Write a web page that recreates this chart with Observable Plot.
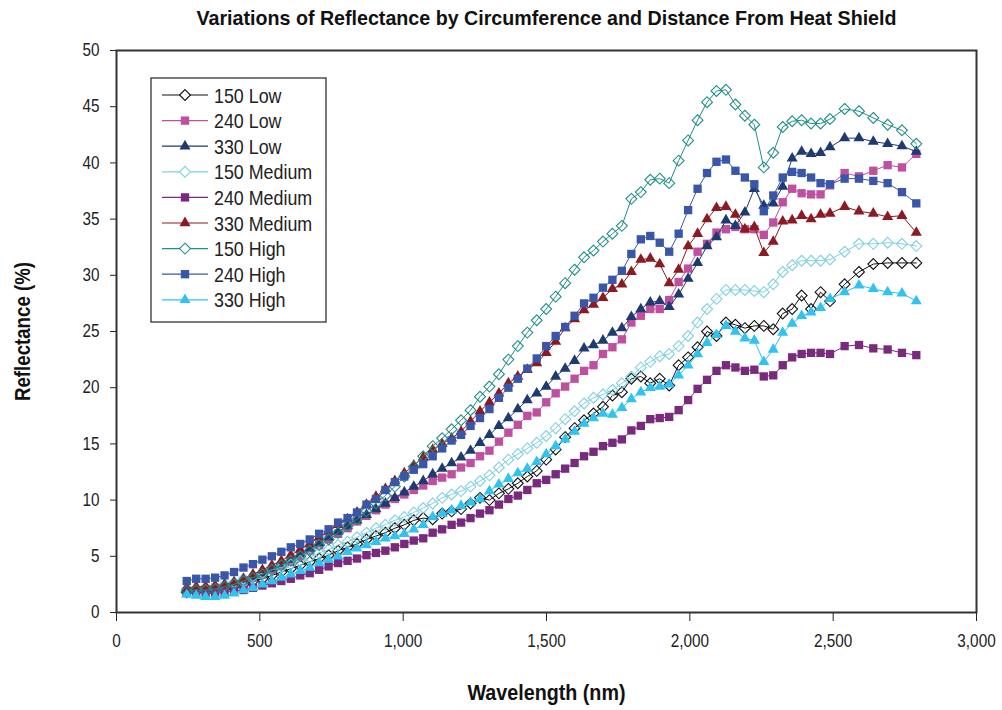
<!DOCTYPE html>
<html><head><meta charset="utf-8">
<script src="https://cdn.jsdelivr.net/npm/d3@7"></script>
<script src="https://cdn.jsdelivr.net/npm/@observablehq/plot@0.6"></script>
<style>body{margin:0;background:#fff;} svg{display:block}</style>
</head><body><div id="chart"></div>
<script>
// ---- data ----
const wavelength = [245,278,311,344,377,410,443,476,509,542,575,608,641,674,707,740,773,806,839,872,905,938,971,
  1004,1037,1070,1103,1136,1169,1202,1235,1268,1301,1334,1367,1400,1433,1466,1499,1532,1565,1598,1631,1664,1697,1730,1763,1796,1829,1862,
  1895,1928,1961,1994,2027,2060,2093,2126,2159,2192,2225,2258,2291,2324,2357,2390,2423,2456,2489,
  2540,2590,2640,2690,2740,2790];

const low150 = [1.8,1.9,1.9,2.0,2.1,2.3,2.5,2.8,3.0,3.3,3.6,3.9,4.2,4.5,4.8,5.1,5.5,5.8,6.1,6.5,6.8,7.1,7.5,
  7.8,8.2,8.4,8.3,8.8,9.0,9.2,9.7,10.2,10.0,10.6,11.0,11.5,12.1,12.6,13.6,14.5,15.6,16.4,17.1,17.7,18.3,19.3,19.6,20.8,21.0,20.4,
  20.8,20.2,22.0,22.7,23.6,25.0,24.6,25.8,25.6,25.3,25.5,25.5,25.2,26.6,27.0,28.2,27.0,28.5,27.7,
  29.2,30.3,31.0,31.1,31.1,31.1];
const low240 = [1.9,2.0,2.1,2.2,2.3,2.5,2.8,3.1,3.4,3.8,4.2,4.6,5.0,5.5,6.0,6.5,7.0,7.5,8.1,8.6,9.1,9.6,10.1,
  10.5,10.9,11.3,11.7,12.0,12.3,12.9,13.3,13.9,14.4,15.2,16.0,16.7,17.5,17.8,18.7,19.5,20.1,20.8,21.5,22.0,23.0,23.6,24.3,25.8,26.4,27.0,
  27.0,27.8,29.4,30.6,32.1,32.8,33.8,34.1,34.3,34.1,34.1,33.6,34.7,36.5,37.7,37.3,37.2,37.2,38.0,
  39.1,38.8,39.3,39.8,39.6,40.8];
const low330 = [2.0,2.1,2.2,2.3,2.4,2.6,2.9,3.2,3.5,3.9,4.3,4.7,5.2,5.7,6.2,6.7,7.2,7.7,8.2,8.7,9.2,9.7,10.2,
  10.7,11.2,11.7,12.3,12.8,13.3,13.8,14.4,15.1,15.8,16.6,17.3,18.1,18.9,19.5,20.1,21.0,21.7,22.4,23.5,23.8,24.2,24.9,25.3,26.3,27.0,27.6,
  27.7,27.2,28.3,29.7,31.1,32.6,33.4,34.9,34.4,35.6,37.7,36.2,36.4,37.9,40.4,41.0,40.8,40.9,41.4,
  42.2,42.2,41.9,41.7,41.5,41.0];
const med150 = [2.1,2.1,2.2,2.3,2.5,2.7,3.0,3.2,3.5,3.8,4.0,4.3,4.6,4.9,5.3,5.6,6.0,6.3,6.7,7.1,7.5,7.8,8.2,
  8.5,8.9,9.3,9.7,10.2,10.5,10.8,11.2,11.7,12.2,12.9,13.6,14.1,14.6,15.1,15.7,16.4,17.2,17.9,18.6,19.1,19.4,19.8,20.4,21.0,21.8,22.3,
  22.8,23.0,23.7,24.6,25.8,27.0,27.9,28.7,28.7,28.7,28.6,28.5,29.2,30.3,30.9,31.3,31.3,31.3,31.4,
  32.1,32.8,32.8,32.9,32.8,32.6];
const med240 = [1.8,1.8,1.7,1.7,1.8,1.9,2.0,2.2,2.4,2.6,2.8,3.0,3.3,3.5,3.8,4.1,4.4,4.6,4.8,5.1,5.3,5.5,5.8,
  6.1,6.4,6.6,7.1,7.4,7.8,8.0,8.4,8.8,9.1,9.6,10.1,10.4,10.9,11.5,11.8,12.3,12.8,13.3,13.9,14.3,14.8,15.1,15.4,16.2,16.6,17.2,
  17.3,17.4,18.0,18.9,19.9,20.7,21.5,22.0,21.8,21.5,21.6,21.0,21.1,22.0,22.7,23.0,23.1,23.1,23.0,
  23.7,23.8,23.5,23.4,23.1,22.9];
const med330 = [2.2,2.3,2.3,2.4,2.5,2.7,3.0,3.4,3.8,4.2,4.6,5.1,5.6,6.1,6.7,7.2,7.8,8.3,8.9,9.6,10.3,11.0,11.7,
  12.4,13.1,13.8,14.5,15.0,15.5,16.1,17.0,17.9,18.7,19.5,20.4,21.0,21.6,22.2,23.1,24.1,25.3,26.1,26.9,27.4,28.0,28.8,29.2,30.3,31.4,31.5,
  31.0,29.3,30.5,32.6,33.7,35.0,36.0,36.1,35.4,34.1,34.3,32.0,33.0,34.8,34.9,35.3,35.0,35.4,35.5,
  36.1,35.7,35.5,35.2,35.3,33.8];
const high150 = [1.9,2.0,2.0,2.1,2.3,2.5,2.8,3.1,3.4,3.8,4.2,4.6,5.0,5.5,6.0,6.5,7.1,7.7,8.3,9.0,9.7,10.4,11.2,
  12.1,13.0,13.9,14.8,15.5,16.3,17.1,18.0,19.2,20.1,21.2,22.5,23.7,24.9,26.0,27.0,28.1,29.3,30.5,31.6,32.2,33.0,33.7,34.4,36.8,37.4,38.5,
  38.6,38.2,40.2,42.0,43.8,45.4,46.4,46.5,45.2,44.2,43.4,39.6,40.9,43.2,43.7,43.8,43.5,43.5,43.9,
  44.8,44.6,44.0,43.4,42.9,41.7];
const high240 = [2.8,3.0,3.0,3.1,3.3,3.6,4.0,4.3,4.7,5.0,5.4,5.8,6.1,6.5,7.0,7.4,8.0,8.4,8.9,9.6,10.1,10.9,11.6,
  12.1,12.7,13.2,13.9,14.6,15.3,15.8,16.6,17.3,18.1,19.1,20.0,20.8,21.7,22.6,23.7,24.6,25.4,26.4,27.5,28.0,28.9,29.6,30.4,31.9,33.2,33.5,
  32.9,32.1,33.7,35.8,37.7,39.1,40.1,40.3,39.3,38.7,38.1,35.7,37.1,38.7,39.2,39.1,38.7,38.2,38.1,
  38.6,38.6,38.4,38.2,37.4,36.4];
const high330 = [1.6,1.5,1.4,1.4,1.5,1.7,2.0,2.2,2.5,2.8,3.1,3.4,3.7,4.0,4.4,4.7,5.0,5.4,5.7,6.0,6.3,6.6,6.8,
  7.0,7.4,7.8,8.5,8.8,9.1,9.5,9.8,10.1,10.8,11.4,11.9,12.4,12.8,13.4,14.1,14.8,15.4,16.1,16.8,17.3,17.7,17.6,18.2,19.0,19.6,20.0,
  20.1,20.3,21.1,22.0,23.0,24.0,24.7,25.5,25.0,24.4,24.2,22.3,23.4,24.9,25.7,26.4,26.7,27.1,27.9,
  28.5,29.1,28.8,28.5,28.4,27.7];

const seriesNames = ["150 Low","240 Low","330 Low","150 Medium","240 Medium","330 Medium","150 High","240 High","330 High"];
const seriesValues = [low150, low240, low330, med150, med240, med330, high150, high240, high330];
const seriesColors = ["#111111","#bf4f9f","#1e3a70","#7fd0e2","#7a2a7d","#8b1a22","#1f8f88","#3a56a8","#30c2f0"];
const seriesSymbols = ["diamond2","square","triangle","diamond2","square","triangle","diamond2","square","triangle"];
const xTicks = [0,500,1000,1500,2000,2500,3000];
const yTicks = [0,5,10,15,20,25,30,35,40,45,50];
const titleText = "Variations of Reflectance by Circumference and Distance From Heat Shield";
const xLabel = "Wavelength (nm)";
const yLabel = "Reflectance (%)";

// ---- build ----
const symbolSize = {diamond2: 4.9, square: 4.7, triangle: 4.1};
const marks = [];
seriesValues.forEach((vals, i) => {
  const data = vals.map((v, j) => ({wl: wavelength[j], r: v}));
  const sym = seriesSymbols[i];
  const hollow = sym === "diamond2";
  marks.push(Plot.line(data, {x: "wl", y: "r", stroke: seriesColors[i], strokeWidth: 1}));
  marks.push(Plot.dot(data, {x: "wl", y: "r", symbol: sym, r: symbolSize[sym],
    fill: hollow ? "none" : seriesColors[i], stroke: seriesColors[i], strokeWidth: hollow ? 1.1 : 0}));
});

const plot = Plot.plot({
  width: 1002, height: 710,
  marginLeft: 116, marginRight: 26, marginTop: 50, marginBottom: 98,
  style: {fontFamily: "'Liberation Sans', Arial, sans-serif", fontSize: "18px", color: "#222", background: "#fff"},
  x: {domain: [0, 3000], ticks: xTicks, tickFormat: d3.format(","), tickSize: 9, tickPadding: 13, label: null},
  y: {domain: [0, 50], ticks: yTicks, tickSize: 6, tickPadding: 11, label: null},
  marks: [
    ...marks,
    Plot.frame({stroke: "#333", strokeWidth: 2}),
    Plot.text([titleText], {frameAnchor: "top", lineAnchor: "middle", dy: -32, fontWeight: "bold", fontSize: 21, fill: "#111"}),
    Plot.text([xLabel], {frameAnchor: "bottom", lineAnchor: "middle", dy: 80, fontWeight: "bold", fontSize: 22, fill: "#111"}),
    Plot.text([yLabel], {frameAnchor: "left", textAnchor: "middle", lineAnchor: "middle", dx: -94, rotate: -90, fontWeight: "bold", fontSize: 22, fill: "#111"})
  ]
});
document.getElementById("chart").appendChild(plot);

// ---- legend ----
const svg = d3.select(plot);
const lg = svg.append("g").attr("font-family", "'Liberation Sans', Arial, sans-serif")
  .attr("font-size", 21).attr("text-anchor", "start");
lg.append("rect").attr("x", 151).attr("y", 78).attr("width", 175).attr("height", 244)
  .attr("fill", "#fff").attr("stroke", "#333").attr("stroke-width", 1.3);
const d3Sym = {diamond2: d3.symbolDiamond2, square: d3.symbolSquare, triangle: d3.symbolTriangle};
seriesNames.forEach((name, i) => {
  const y = 95 + i * 25.6;
  const sym = seriesSymbols[i];
  const hollow = sym === "diamond2";
  lg.append("line").attr("x1", 162).attr("x2", 208).attr("y1", y).attr("y2", y)
    .attr("stroke", seriesColors[i]).attr("stroke-width", 1.2);
  lg.append("path").attr("d", d3.symbol(d3Sym[sym], Math.PI * symbolSize[sym] ** 2)())
    .attr("transform", `translate(185,${y})`)
    .attr("fill", hollow ? "#fff" : seriesColors[i]).attr("stroke", seriesColors[i]).attr("stroke-width", hollow ? 1.1 : 0);
  lg.append("text").attr("x", 214).attr("y", y).attr("dy", "0.36em").attr("text-anchor", "start")
    .attr("fill", "#222").text(name);
});

// ---- narrow the lettering like the reference ----
const targets = {[titleText]: 700, [xLabel]: 158, [yLabel]: 139};
plot.querySelectorAll("text").forEach(t => {
  const s = t.textContent;
  const w = t.getComputedTextLength();
  if (!w) return;
  const L = targets[s] !== undefined ? targets[s] : w * 0.85;
  t.setAttribute("textLength", L.toFixed(1));
  t.setAttribute("lengthAdjust", "spacingAndGlyphs");
});
</script>
</body></html>
